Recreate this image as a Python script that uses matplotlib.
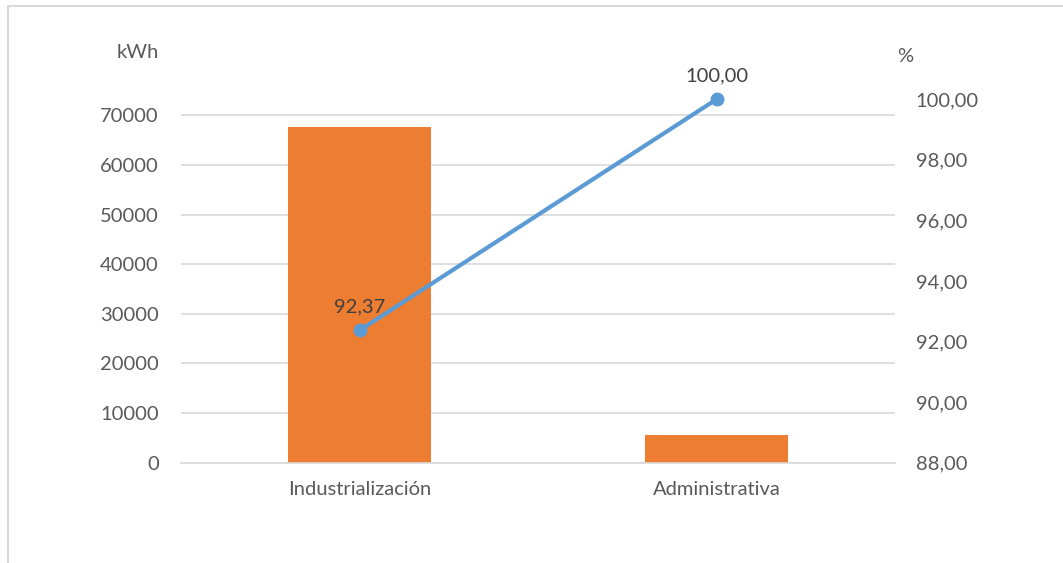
import matplotlib
matplotlib.use("Agg")
import matplotlib.pyplot as plt
from matplotlib.patches import Rectangle

# Energy consumption by area (kWh) and cumulative share (%)
categories = ["Industrialización", "Administrativa"]
consumo_kwh = [67660, 5590]
acumulado_pct = [92.37, 100.00]
left_ticks = [0, 10000, 20000, 30000, 40000, 50000, 60000, 70000]
right_ticks = [88, 90, 92, 94, 96, 98, 100]

plt.rcParams["font.family"] = ["Lato", "DejaVu Sans"]
TEXT = "#595959"
GRID = "#D9D9D9"
BAR = "#ED7D31"
LINE = "#5B9BD5"
FS = 14.5

W, H = 1063, 563
fig = plt.figure(figsize=(W / 100, H / 100), dpi=100)

# chart frame (left and top edges visible)
fig.patches.append(Rectangle((8 / W, -0.1), 1.2, 1 - 6 / H + 0.1,
                             transform=fig.transFigure, fill=False,
                             edgecolor=GRID, linewidth=1.5))

x0, x1 = 181 / W, 895 / W
y0, y1 = 1 - 462.7 / H, 1 - 99.3 / H
ax = fig.add_axes([x0, y0, x1 - x0, y1 - y0])
ax2 = ax.twinx()

xs = list(range(len(categories)))
ax.bar(xs, consumo_kwh, width=0.4, color=BAR, zorder=2)
ax.set_xlim(-0.5, len(categories) - 0.5)
ax.set_ylim(0, sum(consumo_kwh))
ax.set_yticks(left_ticks)
ax.set_yticklabels([str(t) for t in left_ticks])
ax.grid(axis="y", color=GRID, linewidth=1.2, zorder=0)
ax.set_axisbelow(True)
ax.set_xticks(xs)
ax.set_xticklabels(categories)

ax2.plot(xs, acumulado_pct, color=LINE, linewidth=3, marker="o",
         markersize=9, zorder=3, clip_on=False)
ax2.set_ylim(88, 100)
ax2.set_yticks(right_ticks)
ax2.set_yticklabels([f"{t:.2f}".replace(".", ",") for t in right_ticks])

for i, v in enumerate(acumulado_pct):
    ax2.annotate(f"{v:.2f}".replace(".", ","), (xs[i], v),
                 xytext=(0, 11), textcoords="offset points",
                 ha="center", va="bottom", fontsize=FS, color="#404040")

for a in (ax, ax2):
    for s in a.spines.values():
        s.set_visible(False)
    a.tick_params(length=0, labelsize=FS, labelcolor=TEXT)
ax.tick_params(axis="y", pad=16)
ax.tick_params(axis="x", pad=13)
ax2.tick_params(axis="y", pad=15)
ax.spines["bottom"].set_visible(True)
ax.spines["bottom"].set_color(GRID)
ax.spines["bottom"].set_linewidth(1.2)

fig.text(159 / W, 1 - 52 / H, "kWh", ha="right", va="center",
         fontsize=FS, color=TEXT)
fig.text(905 / W, 1 - 57 / H, "%", ha="center", va="center",
         fontsize=FS, color=TEXT)

fig.savefig("out.png", dpi=100, facecolor="white")
